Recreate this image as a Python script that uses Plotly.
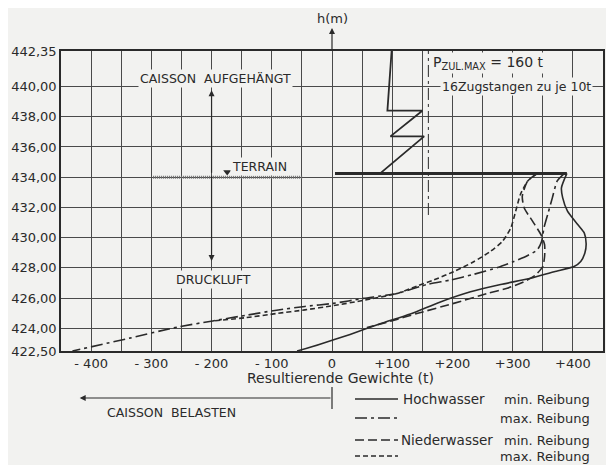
import plotly.graph_objects as go

# ---------------- data ----------------
# Hochwasser, min. Reibung (solid)
hw_min_t = [390, 381, 383, 391, 408, 419, 422, 420, 413, 402, 369, 330, 280, 230, 180, 130, 80, 30, -20, -58]
hw_min_h = [434.25, 433.3, 432.65, 431.75, 430.87, 430.3, 429.6, 429.0, 428.42, 428.09, 427.75, 427.31,
            426.9, 426.42, 425.75, 424.95, 424.3, 423.6, 422.95, 422.5]
# Hochwasser, max. Reibung (dash-dot)
hw_max_t = [386, 374, 366, 359, 352, 348, 341, 325, 302, 275, 236, 197, 158, 108, 52, 2, -45, -92, -142, -198,
            -256, -336, -431]
hw_max_h = [434.25, 433.75, 432.65, 431.65, 430.65, 429.75, 429.2, 428.82, 428.42, 428.02, 427.58, 427.2,
            426.9, 426.31, 425.98, 425.65, 425.45, 425.2, 424.87, 424.49, 424.09, 423.35, 422.5]
# Niederwasser, min. Reibung (long dash)
nw_min_t = [341, 325, 316, 319, 333, 347, 353, 353, 350, 338, 319, 291, 258, 202, 141, 97, 58]
nw_min_h = [434.25, 433.75, 432.75, 431.98, 431.09, 430.2, 429.53, 428.75, 428.09, 427.53, 427.09, 426.65,
            426.31, 425.65, 424.98, 424.47, 424.05]
# Niederwasser, max. Reibung (short dash)
nw_max_t = [341, 325, 313, 305, 297, 283, 263, 236, 202, 169, 141, 108, 52, 2, -45, -92, -142, -198]
nw_max_h = [434.25, 433.75, 432.87, 431.75, 430.65, 429.75, 429.09, 428.42, 427.75, 427.2, 426.8, 426.31,
            425.85, 425.5, 425.22, 424.98, 424.71, 424.49]
# Caisson aufgehängt (hanging load)
hang_t = [99, 92, 150, 97, 153, 80]
hang_h = [442.35, 438.4, 438.4, 436.7, 436.7, 434.25]
# caisson edge line
edge_t = [5, 390]
edge_h = [434.25, 434.25]
# P zul max
P_ZUL = 160
p_h = [431.5, 442.35]
# terrain
terrain_t = [-297, -48]
terrain_h = [434.0, 434.0]
terrain_marker_t = -174

# axis ticks
x_ticks = list(range(-450, 451, 50))
x_labels = {-400: "- 400", -300: "- 300", -200: "- 200", -100: "- 100", 0: "0",
            100: "+100", 200: "+200", 300: "+300", 400: "+400"}
y_ticks = [422.5, 424, 426, 428, 430, 432, 434, 436, 438, 440, 442.35]
y_labels = ["422,50", "424,00", "426,00", "428,00", "430,00", "432,00", "434,00",
            "436,00", "438,00", "440,00", "442,35"]

# ---------------- style ----------------
BG = "#f2f2f0"
INK = "#2a2a2a"
GRID = "#4a4a4a"
FONT = "DejaVu Sans"
DASHDOT = "12px,4px,3px,4px"
LONGDASH = "9px,4px"
SHORTDASH = "5px,3px"

fig = go.Figure()

def add_line(t, h, dash="solid", width=1.6, shape="spline"):
    fig.add_trace(go.Scatter(x=t, y=h, mode="lines",
                             line=dict(color=INK, width=width, dash=dash, shape=shape, smoothing=0.6),
                             hoverinfo="skip", showlegend=False))

# terrain hatching
fig.add_trace(go.Scatter(x=terrain_t, y=terrain_h, mode="lines",
                         line=dict(color="#6a6a6a", width=3, dash="1px,1px"),
                         hoverinfo="skip", showlegend=False))
fig.add_trace(go.Scatter(x=[terrain_marker_t], y=[terrain_h[0] + 0.35], mode="markers",
                         marker=dict(symbol="triangle-down", size=7, color=INK),
                         hoverinfo="skip", showlegend=False))

add_line([P_ZUL, P_ZUL], p_h, dash=DASHDOT, width=1.0, shape="linear")
add_line(hang_t, hang_h, width=1.8, shape="linear")
add_line(edge_t, edge_h, width=3, shape="linear")
add_line(hw_min_t, hw_min_h)
add_line(hw_max_t, hw_max_h, dash=DASHDOT)
add_line(nw_min_t, nw_min_h, dash=LONGDASH)
add_line(nw_max_t, nw_max_h, dash=SHORTDASH)

# ---------------- layout ----------------
# page has an 8px body margin; figure sized to fit the viewport
OFF = 8
W, H = 606, 457
L, T = 53, 43
PW, PH = 542, 300
R = W - L - PW
B = H - T - PH

def px(page_x):
    return (page_x - OFF - L) / PW

def py(page_y):
    return (H - B - (page_y - OFF)) / PH

fig.update_layout(
    width=W, height=H,
    margin=dict(l=L, r=R, t=T, b=B, autoexpand=False),
    paper_bgcolor=BG, plot_bgcolor=BG,
    font=dict(family=FONT, size=13, color=INK),
    showlegend=False,
    xaxis=dict(range=[-450, 450], tickmode="array", tickvals=x_ticks,
               ticktext=[x_labels.get(v, "") for v in x_ticks],
               showgrid=True, gridcolor=GRID, gridwidth=1, zeroline=False,
               showline=True, linecolor=INK, linewidth=1.5, mirror=True, ticks="",
               tickfont=dict(size=13), automargin=False),
    yaxis=dict(range=[422.5, 442.35], tickmode="array", tickvals=y_ticks, ticktext=y_labels,
               showgrid=True, gridcolor=GRID, gridwidth=1, zeroline=False,
               showline=True, linecolor=INK, linewidth=1.5, mirror=True, ticks="",
               tickfont=dict(size=13), automargin=False),
)

def txt(text, x, y, xref="paper", yref="paper", size=13, xanchor="center", bg=None):
    d = dict(text=text, x=x, y=y, xref=xref, yref=yref, showarrow=False,
             xanchor=xanchor, yanchor="middle", font=dict(size=size))
    if bg:
        d["bgcolor"] = bg
    return d

ann = []
# x axis title
ann.append(txt("Resultierende Gewichte (t)", px(340), py(378), size=14))
# h(m) label and arrow
ann.append(txt("h(m)", 0, py(19), xref="x"))
ann.append(dict(text="", xref="x", yref="paper", x=0, y=py(28), ax=0, ay=24,
                showarrow=True, arrowhead=2, arrowsize=1, arrowwidth=1.2, arrowcolor=INK))
# Caisson aufgehängt / Druckluft arrows
ann.append(txt("CAISSON  AUFGEHÄNGT", -193, 440.55, xref="x", yref="y", size=12.5, bg=BG))
ann.append(dict(text="", x=-200, y=439.75, ax=-200, ay=434.2, axref="x", ayref="y",
                showarrow=True, arrowhead=2, arrowsize=1, arrowwidth=1.2, arrowcolor=INK))
ann.append(dict(text="", x=-200, y=428.45, ax=-200, ay=434.2, axref="x", ayref="y",
                showarrow=True, arrowhead=2, arrowsize=1, arrowwidth=1.2, arrowcolor=INK))
ann.append(txt("DRUCKLUFT", -197, 427.25, xref="x", yref="y", size=12.5, bg=BG))
ann.append(txt("TERRAIN", -120, 434.7, xref="x", yref="y", size=12.5, bg=BG))
# P zul
ann.append(dict(text="P<sub>ZUL.MAX</sub> = 160 t", x=P_ZUL + 3, y=441.55, ax=58, ay=0,
                showarrow=True, arrowhead=2, arrowsize=0.8, arrowwidth=1, arrowcolor=INK,
                standoff=0, bgcolor=BG, font=dict(size=14)))
ann.append(txt("16Zugstangen zu je 10t", 307, 439.97, xref="x", yref="y", size=12.5, bg=BG))
# caisson belasten
ann.append(dict(text="", xref="x", yref="paper", x=-419, y=py(398), ax=0, ay=0,
                axref="x", ayref="pixel", showarrow=True, arrowhead=2, arrowsize=1,
                arrowwidth=1.2, arrowcolor=INK))
ann.append(txt("CAISSON  BELASTEN", -266, py(412), xref="x", size=12.5))

# legend texts
rows_y = [399, 418, 440, 456]
ann.append(txt("Hochwasser", px(401), py(rows_y[0]), xanchor="left", size=13.5))
ann.append(txt("Niederwasser", px(399), py(rows_y[2]), xanchor="left", size=13.5))
for yy, lab in zip(rows_y, ["min. Reibung", "max. Reibung", "min. Reibung", "max. Reibung"]):
    ann.append(txt(lab, px(592), py(yy), xanchor="right", size=13))

fig.update_layout(annotations=ann)

shapes = []
# tick at zero below the axis for "caisson belasten"
shapes.append(dict(type="line", xref="x", yref="paper", x0=0, x1=0, y0=py(387), y1=py(409),
                   line=dict(color=INK, width=1.2)))
for yy, dash in zip(rows_y, ["solid", DASHDOT, LONGDASH, SHORTDASH]):
    shapes.append(dict(type="line", xref="paper", yref="paper", x0=px(355), x1=px(398),
                       y0=py(yy), y1=py(yy), line=dict(color=INK, width=1.6, dash=dash)))
fig.update_layout(shapes=shapes)

fig.write_html("out.html")
